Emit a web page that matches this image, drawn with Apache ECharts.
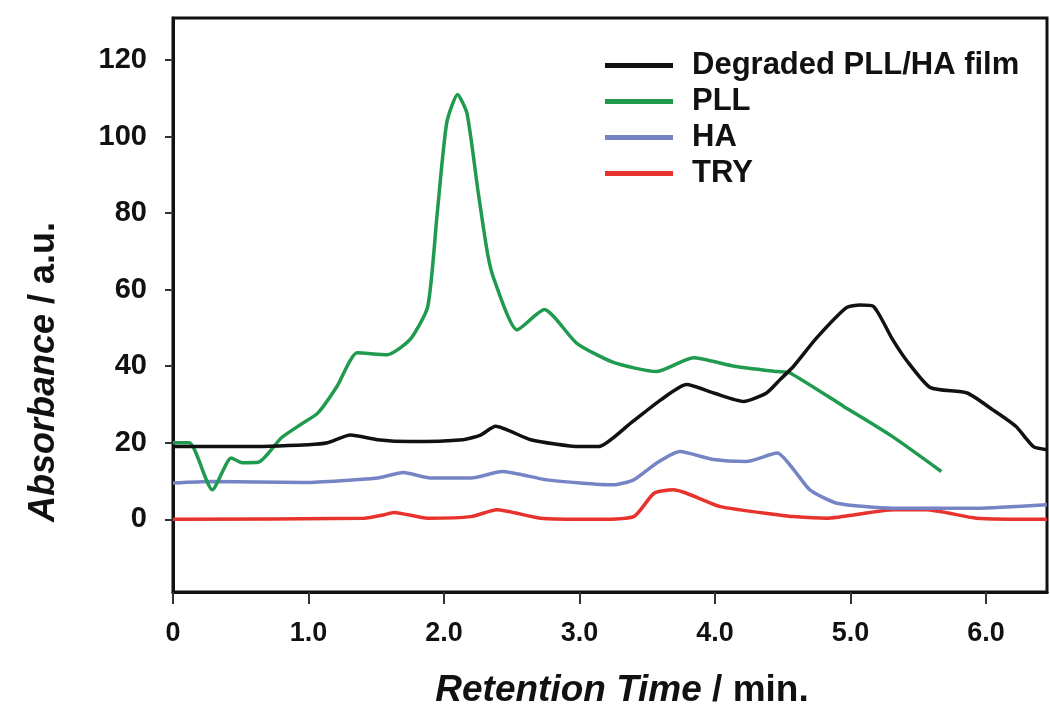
<!DOCTYPE html>
<html>
<head>
<meta charset="utf-8">
<script src="https://cdn.jsdelivr.net/npm/echarts@6/dist/echarts.min.js"></script>
<style>
html,body{margin:0;padding:0;background:#fff;}
#chart{width:1050px;height:720px;}
</style>
</head>
<body>
<div id="chart"></div>
<script>
// Series names
var seriesNames = ['Degraded PLL/HA film', 'PLL', 'HA', 'TRY'];

// Degraded PLL/HA film: [retention time, absorbance]
var degraded = [
  [0, 19], [0.5, 19], [1.0, 19.5], [1.14, 20], [1.31, 22], [1.51, 20.8], [1.75, 20.3],
  [2.14, 20.8], [2.27, 22], [2.38, 24.3], [2.64, 20.8], [3.0, 19], [3.14, 19],
  [3.38, 25.2], [3.6, 31.2], [3.79, 35.2], [3.99, 33], [4.21, 30.8], [4.38, 33],
  [4.48, 36.5], [4.58, 40], [4.75, 47.4], [4.97, 55.3], [5.07, 56], [5.17, 55.6], [5.31, 47],
  [5.41, 41.7], [5.59, 34.4], [5.86, 33], [6.05, 28.6], [6.22, 24.3], [6.35, 19], [6.45, 18.2]
];

// PLL
var pll = [
  [0, 20], [0.12, 20], [0.29, 7.7], [0.43, 16], [0.51, 14.8], [0.63, 14.9], [0.8, 21.3],
  [0.94, 24.7], [1.07, 27.8], [1.21, 34.7], [1.36, 43.5], [1.58, 43], [1.75, 47],
  [1.88, 55.6], [1.95, 80], [2.02, 103.6], [2.10, 111], [2.17, 106], [2.25, 86],
  [2.32, 69.7], [2.37, 62.6], [2.54, 49.5], [2.74, 54.8], [2.98, 46], [3.25, 41],
  [3.57, 38.6], [3.84, 42.2], [4.14, 40], [4.46, 38.6], [4.55, 38.3], [4.95, 29.5],
  [5.31, 21.6], [5.67, 12.5]
];

// HA
var ha = [
  [0, 9.5], [0.28, 9.9], [0.97, 9.6], [1.51, 10.8], [1.70, 12.2], [1.9, 10.8], [2.2, 10.8],
  [2.43, 12.5], [2.76, 10.3], [3.25, 9], [3.40, 10.3], [3.57, 14.7], [3.74, 17.7],
  [3.99, 15.6], [4.23, 15.1], [4.46, 17.3], [4.58, 13], [4.70, 7.7], [4.9, 4.2],
  [5.31, 2.9], [5.93, 2.9], [6.45, 3.8]
];

// TRY
var tryData = [
  [0, 0], [1.41, 0.3], [1.56, 1.2], [1.63, 1.8], [1.88, 0.3], [2.2, 0.7], [2.39, 2.5],
  [2.71, 0.3], [3.13, 0], [3.40, 0.7], [3.55, 6.8], [3.69, 7.7], [3.79, 6.8],
  [4.04, 3.3], [4.46, 1.2], [4.58, 0.7], [4.82, 0.3], [5.32, 2.5], [5.56, 2.5],
  [5.93, 0.3], [6.45, 0]
];

var yTicks = [0, 20, 40, 60, 80, 100, 120];
var xTicks = [0, 1, 2, 3, 4, 5, 6];

var FONT = "'Liberation Sans', Arial, Helvetica, sans-serif";
var colors = ['#111111', '#1f9a4e', '#7584c4', '#e8322c'];

var chart = echarts.init(document.getElementById('chart'), null, {renderer: 'canvas'});

var dataSets = [degraded, pll, ha, tryData];
var series = seriesNames.map(function (n, i) {
  return {
    name: n,
    type: 'line',
    data: dataSets[i],
    symbol: 'none',
    smooth: 0.2,
    lineStyle: {color: colors[i], width: 3.5},
    itemStyle: {color: colors[i]},
    z: 10 - i
  };
});

chart.setOption({
  animation: false,
  backgroundColor: '#ffffff',
  color: colors,
  grid: {
    left: 173, right: 3, top: 18, bottom: 128,
    show: true, borderColor: '#111', borderWidth: 3, backgroundColor: 'transparent'
  },
  legend: {
    orient: 'vertical',
    left: 600, top: 45,
    itemWidth: 68, itemHeight: 14, itemGap: 5,
    icon: 'path://M0,0 L68,0 L68,5 L0,5 Z',
    textStyle: {
      fontFamily: FONT, fontSize: 31, fontWeight: 'bold', color: '#111',
      padding: [0, 0, 0, 14]
    },
    data: seriesNames
  },
  xAxis: {
    type: 'value',
    min: 0, max: 6.45,
    axisLine: {show: true, onZero: false, lineStyle: {color: '#111', width: 3}},
    axisTick: {show: true, length: 12, lineStyle: {color: '#333', width: 2}, customValues: xTicks},
    axisLabel: {
      customValues: xTicks,
      fontFamily: FONT, fontSize: 27, fontWeight: 'bold', color: '#111', margin: 28,
      formatter: function (v) { return v === 0 ? '0' : v.toFixed(1); }
    },
    splitLine: {show: false},
    name: '{i|Retention Time}{n| / min.}',
    nameLocation: 'middle',
    nameGap: 80,
    nameTextStyle: {
      padding: [0, 0, 0, 24],
      rich: {
        i: {fontFamily: FONT, fontSize: 37, fontWeight: 'bold', fontStyle: 'italic', color: '#111'},
        n: {fontFamily: FONT, fontSize: 37, fontWeight: 'bold', color: '#111'}
      }
    }
  },
  yAxis: {
    type: 'value',
    min: -19, max: 131,
    axisLine: {show: true, onZero: false, lineStyle: {color: '#111', width: 3}},
    axisTick: {show: true, length: 8, lineStyle: {color: '#333', width: 2}, customValues: yTicks},
    axisLabel: {
      customValues: yTicks,
      fontFamily: FONT, fontSize: 29, fontWeight: 'bold', color: '#111', margin: 26
    },
    splitLine: {show: false}
  },
  graphic: [{
    type: 'text',
    x: 44, y: 372,
    rotation: Math.PI / 2,
    style: {
      text: '{i|Absorbance}{n| / a.u.}',
      align: 'center', verticalAlign: 'middle',
      rich: {
        i: {fontFamily: FONT, fontSize: 36, fontWeight: 'bold', fontStyle: 'italic', fill: '#111'},
        n: {fontFamily: FONT, fontSize: 36, fontWeight: 'bold', fill: '#111'}
      }
    }
  }],
  series: series
});
</script>
</body>
</html>
